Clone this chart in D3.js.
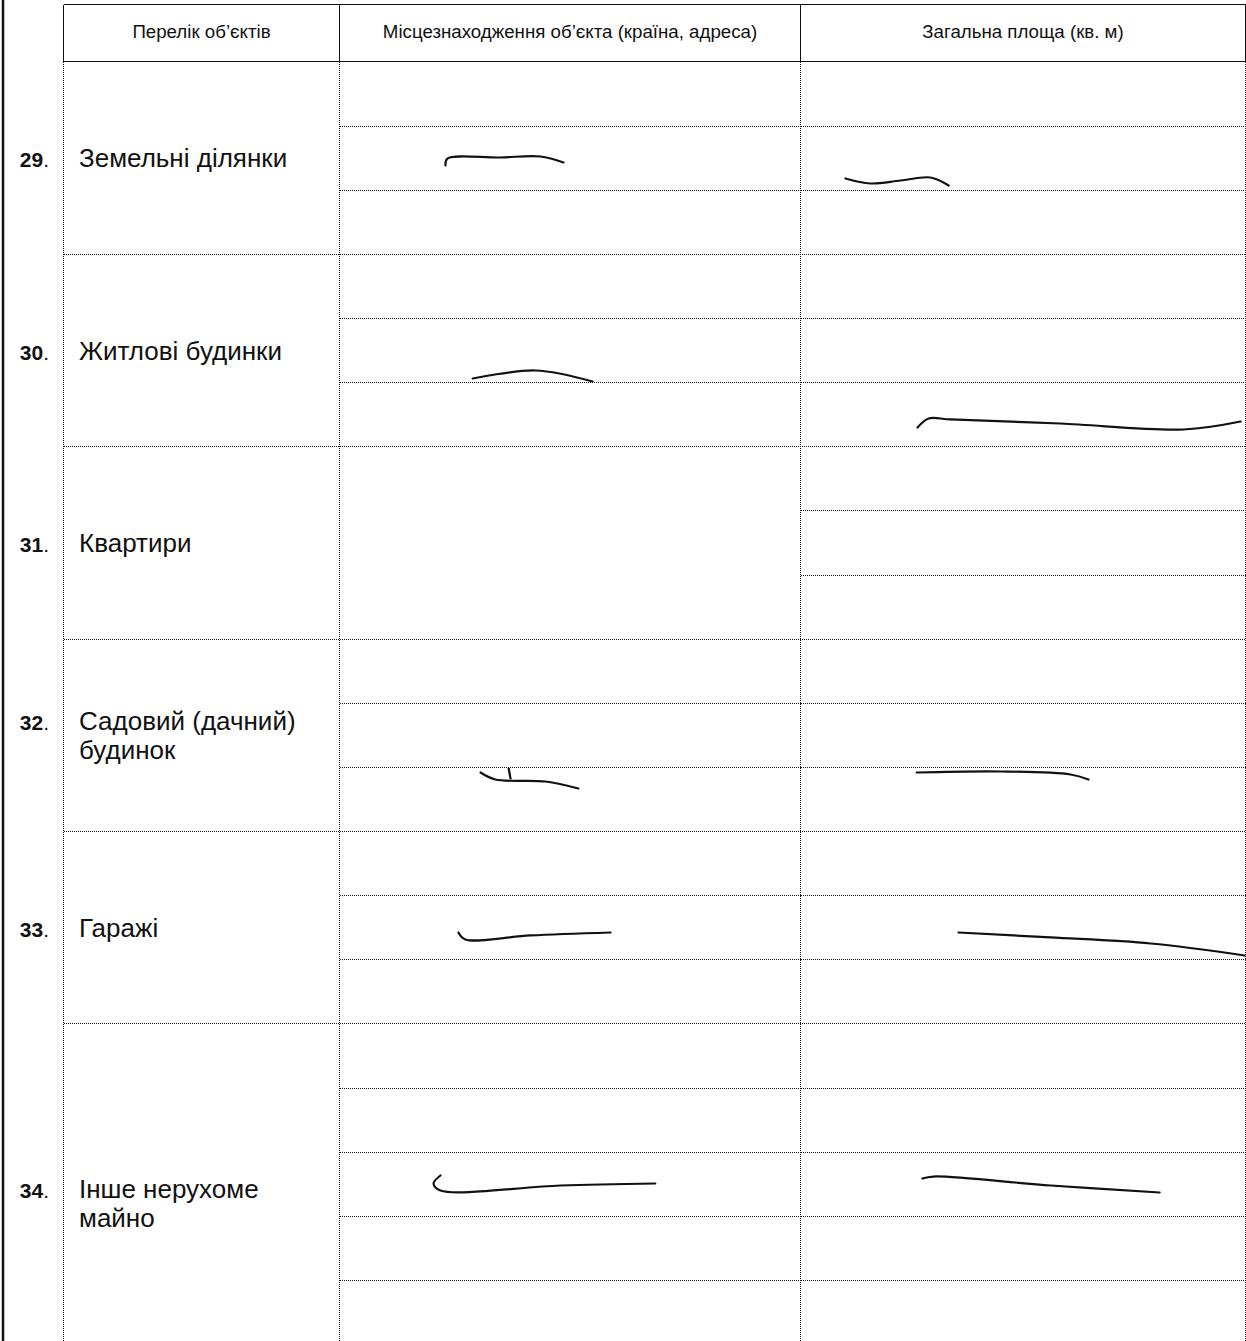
<!DOCTYPE html>
<html>
<head>
<meta charset="utf-8">
<script src="https://cdn.jsdelivr.net/npm/d3@7"></script>
<style>
  body { margin: 0; background: #fff; }
  svg { display: block; }
  text { font-family: "Liberation Sans", Arial, sans-serif; fill: #111; }
</style>
</head>
<body>
<div id="form"></div>
<script>
// column headers
var headers = ["Перелік об’єктів", "Місцезнаходження об’єкта (країна, адреса)", "Загальна площа (кв. м)"];

// one entry per item of the declaration
var itemNumbers = ["29", "30", "31", "32", "33", "34"];
var itemNames = [
  ["Земельні ділянки"],
  ["Житлові будинки"],
  ["Квартири"],
  ["Садовий (дачний)", "будинок"],
  ["Гаражі"],
  ["Інше нерухоме", "майно"]
];
var subRows = [3, 3, 3, 3, 3, 5];        // writing lines per item
var placeLines = [2, 2, 0, 2, 2, 4];     // dotted lines inside "location" cell
var areaLines = [2, 2, 2, 2, 2, 4];      // dotted lines inside "area" cell

// handwritten dashes: item, column (1 = location, 2 = area),
// points as [fraction of column width, line units from the item top]
var strokes = [
  {item: 0, col: 1, pts: [[0.230, 1.622], [0.234, 1.513], [0.349, 1.497], [0.436, 1.481], [0.486, 1.575]]},
  {item: 0, col: 2, pts: [[0.101, 1.824], [0.157, 1.902], [0.225, 1.856], [0.292, 1.809], [0.333, 1.934]]},
  {item: 1, col: 1, pts: [[0.289, 1.943], [0.425, 1.818], [0.549, 1.990]]},
  {item: 1, col: 2, pts: [[0.263, 2.707], [0.288, 2.567], [0.337, 2.582], [0.584, 2.645], [0.861, 2.738], [0.989, 2.614]]},
  {item: 3, col: 1, pts: [[0.306, 2.087], [0.338, 2.196], [0.447, 2.227], [0.518, 2.336]]},
  {item: 3, col: 1, pts: [[0.367, 2.025], [0.371, 2.180]]},
  {item: 3, col: 2, pts: [[0.261, 2.087], [0.449, 2.071], [0.607, 2.118], [0.647, 2.196]]},
  {item: 4, col: 1, pts: [[0.258, 1.582], [0.273, 1.690], [0.414, 1.628], [0.588, 1.582]]},
  {item: 4, col: 2, pts: [[0.355, 1.582], [0.562, 1.659], [0.787, 1.753], [0.998, 1.940]]},
  {item: 5, col: 1, pts: [[0.219, 2.371], [0.204, 2.496], [0.219, 2.605], [0.479, 2.527], [0.685, 2.496]]},
  {item: 5, col: 2, pts: [[0.274, 2.418], [0.299, 2.387], [0.562, 2.527], [0.807, 2.636]]}
];

var width = 1246, height = 1341;
var headTop = 4.5, headBottom = 61.5;
var colEdges = [63.5, 339.5, 800.5, 1245.5];
var unit = 64.13;
var lastRowExtra = 0.6;

var rowStart = [0].concat(Array.from(d3.cumsum(subRows)));
var y = d3.scaleLinear().domain([0, 20]).range([headBottom, headBottom + 20 * unit]);
var colScale = colEdges.slice(0, 3).map(function(x0, i) {
  return d3.scaleLinear().domain([0, 1]).range([x0, colEdges[i + 1]]);
});

var svg = d3.select("#form")
  .append("svg")
  .attr("width", width)
  .attr("height", height);

// outer left edge of the page frame
svg.append("line")
  .attr("x1", 3).attr("x2", 3).attr("y1", 0).attr("y2", height)
  .style("stroke", "#111").style("stroke-width", 2.5);

// header block, solid rules
var head = svg.append("g").attr("class", "head").style("shape-rendering", "crispEdges");
[headTop, headBottom].forEach(function(yy) {
  head.append("line")
    .attr("x1", colEdges[0]).attr("x2", colEdges[3]).attr("y1", yy).attr("y2", yy)
    .style("stroke", "#111").style("stroke-width", 1.6);
});
colEdges.forEach(function(xx) {
  head.append("line")
    .attr("x1", xx).attr("x2", xx).attr("y1", headTop).attr("y2", headBottom)
    .style("stroke", "#111").style("stroke-width", 1.2);
});
head.selectAll("text")
  .data(headers)
  .enter().append("text")
  .attr("x", function(d, i) { return (colEdges[i] + colEdges[i + 1]) / 2; })
  .attr("y", (headTop + headBottom) / 2 + 5)
  .attr("text-anchor", "middle")
  .style("font-size", "18.7px")
  .text(function(d) { return d; });

// body grid, dotted rules
var grid = svg.append("g").attr("class", "grid").style("shape-rendering", "crispEdges");
var dotted = function(sel) {
  return sel.style("stroke", "#1a1a1a").style("stroke-width", 1).style("stroke-dasharray", "1,1");
};

colEdges.forEach(function(xx) {
  dotted(grid.append("line")
    .attr("x1", xx).attr("x2", xx).attr("y1", headBottom).attr("y2", height));
});

itemNumbers.forEach(function(n, i) {
  if (i > 0) {
    dotted(grid.append("line")
      .attr("x1", colEdges[0]).attr("x2", colEdges[3])
      .attr("y1", Math.round(y(rowStart[i])) + 0.5).attr("y2", Math.round(y(rowStart[i])) + 0.5));
  }
  [placeLines[i], areaLines[i]].forEach(function(count, c) {
    d3.range(1, count + 1).forEach(function(k) {
      var yy = Math.round(y(rowStart[i] + k)) + 0.5;
      dotted(grid.append("line")
        .attr("x1", colEdges[c + 1]).attr("x2", colEdges[c + 2])
        .attr("y1", yy).attr("y2", yy));
    });
  });
});

// item labels
var lineGap = 29;
var labels = svg.append("g").attr("class", "labels")
  .selectAll("g")
  .data(itemNumbers)
  .enter().append("g")
  .attr("transform", function(d, i) {
    var span = subRows[i] + (i === itemNumbers.length - 1 ? lastRowExtra : 0);
    var mid = y(rowStart[i] + span / 2) - (itemNames[i].length - 1) * lineGap / 2;
    return "translate(0," + mid + ")";
  });

labels.append("text")
  .attr("x", 49)
  .attr("y", 9.5)
  .attr("text-anchor", "end")
  .style("font-size", "21px")
  .call(function(t) {
    t.append("tspan").style("font-weight", "bold").text(function(d) { return d; });
    t.append("tspan").text(".");
  });

labels.each(function(d, i) {
  d3.select(this).selectAll("text.name")
    .data(itemNames[i])
    .enter().append("text")
    .attr("class", "name")
    .attr("x", 79)
    .attr("y", function(s, k) { return 9.5 + k * lineGap; })
    .style("font-size", "26px")
    .text(function(s) { return s; });
});

// handwritten dashes
var pen = d3.line().curve(d3.curveCatmullRom.alpha(0.5));
svg.append("g").attr("class", "ink")
  .selectAll("path")
  .data(strokes)
  .enter().append("path")
  .attr("d", function(s) {
    return pen(s.pts.map(function(p) {
      return [colScale[s.col](p[0]), y(rowStart[s.item] + p[1])];
    }));
  })
  .style("fill", "none")
  .style("stroke", "#111")
  .style("stroke-width", 2.2)
  .style("stroke-linecap", "round");
</script>
</body>
</html>
